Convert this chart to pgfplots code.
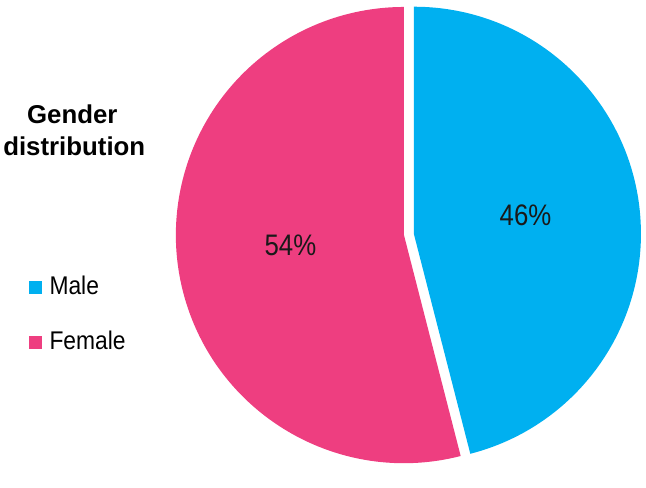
\documentclass[border=0pt]{standalone}
\usepackage{pgfplots}
\pgfplotsset{compat=1.18}
\usepackage{pgfplotstable}
\usepackage{fontspec}
\setmainfont{Liberation Sans}

\definecolor{maleblue}{RGB}{0,176,240}
\definecolor{femalepink}{RGB}{238,62,128}
\definecolor{labeltext}{RGB}{25,25,25}

% share of each group, in percent
\pgfplotstableread{
label  value
Male   46
Female 54
}\gendertable

\begin{document}
\begin{tikzpicture}
  \pgfplotstablegetelem{0}{value}\of\gendertable \let\male\pgfplotsretval
  \pgfplotstablegetelem{1}{value}\of\gendertable \let\female\pgfplotsretval
  \begin{axis}[scale only axis, width=646bp, height=472bp,
      xmin=0, xmax=646, ymin=0, ymax=472, hide axis, clip=false]
    \path (axis cs:0,0) rectangle (axis cs:646,472);
    % female slice, from the end of the male slice round to the top
    \fill[femalepink] (axis cs:403,236) -- ++({90-3.6*\male}:229bp)
      arc[start angle={90-3.6*\male}, end angle=-270, radius=229bp] -- cycle;
    % male slice, pulled out along its bisector
    \fill[maleblue, shift={({90-1.8*\male}:10bp)}] (axis cs:403,236) -- ++(90:228bp)
      arc[start angle=90, end angle={90-3.6*\male}, radius=228bp] -- cycle;
    \node[labeltext, yscale=1.15, transform shape, font=\fontsize{26}{30}\selectfont] at (axis cs:289,226) {\female\%};
    \node[labeltext, yscale=1.15, transform shape, font=\fontsize{26}{30}\selectfont] at (axis cs:525,256) {\male\%};
    % title
    \node[anchor=base, font=\bfseries\fontsize{26}{30}\selectfont] at (axis cs:70,348) {Gender};
    \node[anchor=base, font=\bfseries\fontsize{26}{30}\selectfont] at (axis cs:72,316) {distribution};
    % legend
    \fill[maleblue] (axis cs:27,177) rectangle (axis cs:40,190);
    \node[anchor=base west, inner sep=0pt, yscale=1.12, transform shape, font=\fontsize{23}{26}\selectfont] at (axis cs:47,176) {Male};
    \fill[femalepink] (axis cs:27,122) rectangle (axis cs:40,135);
    \node[anchor=base west, inner sep=0pt, yscale=1.12, transform shape, font=\fontsize{23}{26}\selectfont] at (axis cs:47,121) {Female};
  \end{axis}
\end{tikzpicture}
\end{document}
